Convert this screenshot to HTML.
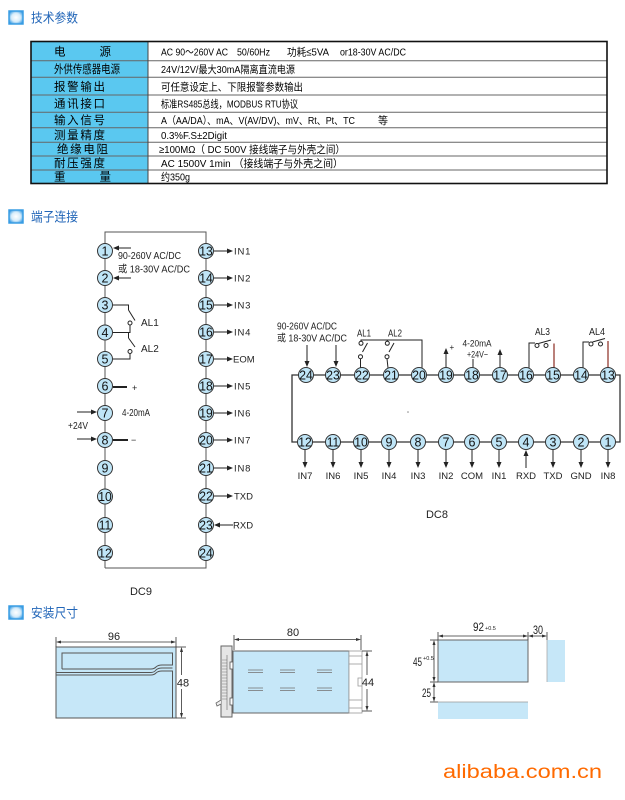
<!DOCTYPE html>
<html><head><meta charset="utf-8">
<style>
html,body{margin:0;padding:0;background:#fff;}
svg{display:block;}
text{font-family:"Liberation Sans","Noto Sans CJK SC",sans-serif;}
</style></head>
<body>
<svg width="625" height="800" viewBox="0 0 625 800" xmlns="http://www.w3.org/2000/svg">
<defs>
<radialGradient id="ic" cx="50%" cy="50%" r="60%">
<stop offset="0" stop-color="#ffffff"/><stop offset="0.55" stop-color="#d6ecfa"/><stop offset="1" stop-color="#2f97e2"/>
</radialGradient>
</defs>

<!-- Section headers -->
<rect x="9" y="11" width="14" height="13" fill="url(#ic)" stroke="#3a9de4" stroke-width="1.5"/>
<text x="31" y="22.5" font-size="13" fill="#2266b8" textLength="47" lengthAdjust="spacingAndGlyphs">技术参数</text>
<rect x="9" y="210" width="14" height="13" fill="url(#ic)" stroke="#3a9de4" stroke-width="1.5"/>
<text x="31" y="221.5" font-size="13" fill="#2266b8" textLength="47" lengthAdjust="spacingAndGlyphs">端子连接</text>
<rect x="9" y="606" width="14" height="13" fill="url(#ic)" stroke="#3a9de4" stroke-width="1.5"/>
<text x="31" y="617.5" font-size="13" fill="#2266b8" textLength="47" lengthAdjust="spacingAndGlyphs">安装尺寸</text>

<!-- Table -->
<rect x="31" y="41.5" width="117" height="142" fill="#5ac8f0"/>
<g stroke="#666" stroke-width="1">
<line x1="31" y1="60.7" x2="607" y2="60.7"/>
<line x1="31" y1="77.3" x2="607" y2="77.3"/>
<line x1="31" y1="95" x2="607" y2="95"/>
<line x1="31" y1="112.3" x2="607" y2="112.3"/>
<line x1="31" y1="127.7" x2="607" y2="127.7"/>
<line x1="31" y1="142.3" x2="607" y2="142.3"/>
<line x1="31" y1="156" x2="607" y2="156"/>
<line x1="31" y1="170" x2="607" y2="170"/>
<line x1="148" y1="41.5" x2="148" y2="183.5" stroke="#444"/>
</g>
<rect x="31" y="41.5" width="576" height="142" fill="none" stroke="#111" stroke-width="1.6"/>

<g font-size="11.5" fill="#000">
<text x="54" y="55.5" textLength="57" lengthAdjust="spacing">电源</text>
<text x="54" y="73" textLength="66" lengthAdjust="spacingAndGlyphs">外供传感器电源</text>
<text x="54" y="90.5" textLength="51" lengthAdjust="spacing">报警输出</text>
<text x="54" y="107.5" textLength="51" lengthAdjust="spacing">通讯接口</text>
<text x="54" y="124" textLength="51" lengthAdjust="spacing">输入信号</text>
<text x="54" y="139" textLength="51" lengthAdjust="spacing">测量精度</text>
<text x="57" y="153" textLength="51" lengthAdjust="spacing">绝缘电阻</text>
<text x="54" y="167" textLength="51" lengthAdjust="spacing">耐压强度</text>
<text x="54" y="180.5" textLength="57" lengthAdjust="spacing">重量</text>
</g>
<g font-size="10.5" fill="#000">
<text x="161" y="55.5" textLength="67" lengthAdjust="spacingAndGlyphs">AC 90～260V AC</text>
<text x="237" y="55.5" textLength="33" lengthAdjust="spacingAndGlyphs">50/60Hz</text>
<text x="287" y="55.5" textLength="42" lengthAdjust="spacingAndGlyphs">功耗≤5VA</text>
<text x="340" y="55.5" textLength="66" lengthAdjust="spacingAndGlyphs">or18-30V AC/DC</text>
<text x="161" y="73" textLength="134" lengthAdjust="spacingAndGlyphs">24V/12V/最大30mA隔离直流电源</text>
<text x="161" y="90.5" textLength="142" lengthAdjust="spacingAndGlyphs">可任意设定上、下限报警参数输出</text>
<text x="161" y="107.5" textLength="137" lengthAdjust="spacingAndGlyphs">标准RS485总线，MODBUS RTU协议</text>
<text x="161" y="124" textLength="194" lengthAdjust="spacingAndGlyphs">A（AA/DA）、mA、V(AV/DV)、mV、Rt、Pt、TC</text>
<text x="378" y="124" textLength="10" lengthAdjust="spacingAndGlyphs">等</text>
<text x="161" y="139" textLength="66" lengthAdjust="spacingAndGlyphs">0.3%F.S±2Digit</text>
<text x="159" y="153" textLength="186" lengthAdjust="spacingAndGlyphs">≥100MΩ（ DC 500V 接线端子与外壳之间）</text>
<text x="161" y="167" textLength="182" lengthAdjust="spacingAndGlyphs">AC 1500V  1min （接线端子与外壳之间）</text>
<text x="161" y="180.5" textLength="29" lengthAdjust="spacingAndGlyphs">约350g</text>
</g>

<!-- DC9 -->
<g stroke="#555" stroke-width="1" fill="none">
<polyline points="105,568 105,232 206,232 206,568 105,568"/>
</g>
<g stroke="#222" stroke-width="1" fill="none">
<line x1="131" y1="248" x2="116" y2="248"/>
<line x1="131" y1="278" x2="116" y2="278"/>
<polyline points="113,305 128.5,305 128.5,310"/>
<line x1="128.5" y1="310" x2="135" y2="320.5"/>
<circle cx="130" cy="323" r="2" fill="#fff"/>
<polyline points="130,325 130,332.5 113,332.5"/>
<polyline points="130,332.5 128.5,332.5 128.5,338"/>
<line x1="128.5" y1="338" x2="135" y2="347"/>
<circle cx="130" cy="351.5" r="2" fill="#fff"/>
<polyline points="130,353.5 130,359 113,359"/>
<line x1="77" y1="412" x2="93" y2="412"/>
<line x1="77" y1="439" x2="93" y2="439"/>
</g>
<g stroke="#222" stroke-width="2">
<line x1="113" y1="387" x2="127" y2="387"/>
<line x1="113" y1="440" x2="128" y2="440"/>
</g>
<g fill="#222">
<polygon points="113,248 119,245.5 119,250.5"/>
<polygon points="113,278 119,275.5 119,280.5"/>
<polygon points="97,412 91,409.5 91,414.5"/>
<polygon points="97,439 91,436.5 91,441.5"/>
</g>
<g font-size="10" fill="#222">
<text x="118" y="259" textLength="63" lengthAdjust="spacingAndGlyphs">90-260V AC/DC</text>
<text x="118" y="272.5" textLength="72" lengthAdjust="spacingAndGlyphs">或 18-30V AC/DC</text>
<text x="141" y="326">AL1</text>
<text x="141" y="352">AL2</text>
<text x="132" y="391" font-size="9">+</text>
<text x="122" y="416" textLength="28" lengthAdjust="spacingAndGlyphs">4-20mA</text>
<text x="68" y="429" textLength="20" lengthAdjust="spacingAndGlyphs">+24V</text>
<text x="131" y="443" font-size="9">−</text>
</g>
<g stroke="#222" stroke-width="1">
<line x1="214" y1="251" x2="228" y2="251"/>
<line x1="214" y1="278" x2="228" y2="278"/>
<line x1="214" y1="305" x2="228" y2="305"/>
<line x1="214" y1="332" x2="228" y2="332"/>
<line x1="214" y1="359" x2="228" y2="359"/>
<line x1="214" y1="386" x2="228" y2="386"/>
<line x1="214" y1="413" x2="228" y2="413"/>
<line x1="214" y1="440" x2="228" y2="440"/>
<line x1="214" y1="468" x2="228" y2="468"/>
<line x1="214" y1="496" x2="228" y2="496"/>
<line x1="219" y1="525" x2="233" y2="525"/>
</g>
<g fill="#222">
<polygon points="233,251 227,248.5 227,253.5"/>
<polygon points="233,278 227,275.5 227,280.5"/>
<polygon points="233,305 227,302.5 227,307.5"/>
<polygon points="233,332 227,329.5 227,334.5"/>
<polygon points="233,359 227,356.5 227,361.5"/>
<polygon points="233,386 227,383.5 227,388.5"/>
<polygon points="233,413 227,410.5 227,415.5"/>
<polygon points="233,440 227,437.5 227,442.5"/>
<polygon points="233,468 227,465.5 227,470.5"/>
<polygon points="233,496 227,493.5 227,498.5"/>
<polygon points="214,525 220,522.5 220,527.5"/>
</g>
<g font-size="9.5" fill="#222">
<text x="234" y="254.5" letter-spacing="0.8">IN1</text>
<text x="234" y="281.5" letter-spacing="0.8">IN2</text>
<text x="234" y="308.5" letter-spacing="0.8">IN3</text>
<text x="234" y="335.5" letter-spacing="0.8">IN4</text>
<text x="233" y="362.5">EOM</text>
<text x="234" y="389.5" letter-spacing="0.8">IN5</text>
<text x="234" y="416.5" letter-spacing="0.8">IN6</text>
<text x="234" y="443.5" letter-spacing="0.8">IN7</text>
<text x="234" y="471.5" letter-spacing="0.8">IN8</text>
<text x="234" y="499.5">TXD</text>
<text x="233" y="528.5">RXD</text>
</g>
<g fill="#bfe5f7" stroke="#333" stroke-width="1">
<circle cx="105" cy="251" r="7.5"/><circle cx="105" cy="278" r="7.5"/><circle cx="105" cy="305" r="7.5"/>
<circle cx="105" cy="332.5" r="7.5"/><circle cx="105" cy="359" r="7.5"/><circle cx="105" cy="386" r="7.5"/>
<circle cx="105" cy="413" r="7.5"/><circle cx="105" cy="440" r="7.5"/><circle cx="105" cy="468" r="7.5"/>
<circle cx="105" cy="496.5" r="7.5"/><circle cx="105" cy="525" r="7.5"/><circle cx="105" cy="553" r="7.5"/>
<circle cx="206" cy="251" r="7.5"/><circle cx="206" cy="278" r="7.5"/><circle cx="206" cy="305" r="7.5"/>
<circle cx="206" cy="332" r="7.5"/><circle cx="206" cy="359" r="7.5"/><circle cx="206" cy="386" r="7.5"/>
<circle cx="206" cy="413" r="7.5"/><circle cx="206" cy="440" r="7.5"/><circle cx="206" cy="468" r="7.5"/>
<circle cx="206" cy="496" r="7.5"/><circle cx="206" cy="525" r="7.5"/><circle cx="206" cy="553" r="7.5"/>
</g>
<g font-size="12.5" fill="#111" text-anchor="middle">
<text x="105" y="255.5">1</text><text x="105" y="282.5">2</text><text x="105" y="309.5">3</text>
<text x="105" y="337">4</text><text x="105" y="363.5">5</text><text x="105" y="390.5">6</text>
<text x="105" y="417.5">7</text><text x="105" y="444.5">8</text><text x="105" y="472.5">9</text>
<text x="105" y="501" textLength="13.5" lengthAdjust="spacingAndGlyphs">10</text><text x="105" y="529.5" textLength="12.5" lengthAdjust="spacingAndGlyphs">11</text><text x="105" y="557.5" textLength="13.5" lengthAdjust="spacingAndGlyphs">12</text>
<text x="206" y="255.5" textLength="13.5" lengthAdjust="spacingAndGlyphs">13</text><text x="206" y="282.5" textLength="13.5" lengthAdjust="spacingAndGlyphs">14</text><text x="206" y="309.5" textLength="13.5" lengthAdjust="spacingAndGlyphs">15</text>
<text x="206" y="336.5" textLength="13.5" lengthAdjust="spacingAndGlyphs">16</text><text x="206" y="363.5" textLength="13.5" lengthAdjust="spacingAndGlyphs">17</text><text x="206" y="390.5" textLength="13.5" lengthAdjust="spacingAndGlyphs">18</text>
<text x="206" y="417.5" textLength="13.5" lengthAdjust="spacingAndGlyphs">19</text><text x="206" y="444.5" textLength="13.5" lengthAdjust="spacingAndGlyphs">20</text><text x="206" y="472.5" textLength="13.5" lengthAdjust="spacingAndGlyphs">21</text>
<text x="206" y="500.5" textLength="13.5" lengthAdjust="spacingAndGlyphs">22</text><text x="206" y="529.5" textLength="13.5" lengthAdjust="spacingAndGlyphs">23</text><text x="206" y="557.5" textLength="13.5" lengthAdjust="spacingAndGlyphs">24</text>
</g>
<text x="141" y="595" font-size="11" fill="#222" text-anchor="middle">DC9</text>

<!-- DC8 -->
<g stroke="#333" stroke-width="1.3" fill="none">
<polyline points="608,375 306,375 292,375 292,442 305,442 608,442"/>
<polyline points="608,375 620,375 620,442 608,442"/>
</g>
<g stroke="#222" stroke-width="1" fill="none">
<line x1="307" y1="345" x2="307" y2="362"/>
<line x1="336" y1="345" x2="336" y2="362"/>
<polyline points="361,341.3 361,340 422,340 422,368"/>
<circle cx="361" cy="343.3" r="2" fill="#fff"/>
<line x1="362.5" y1="352" x2="367.5" y2="343"/>
<circle cx="360.5" cy="356.7" r="2" fill="#fff"/>
<line x1="360.5" y1="358.7" x2="360.5" y2="368"/>
<line x1="387.3" y1="341.3" x2="387.3" y2="340"/>
<circle cx="387.3" cy="343.3" r="2" fill="#fff"/>
<line x1="389" y1="352" x2="394" y2="343"/>
<circle cx="387" cy="356.7" r="2" fill="#fff"/>
<line x1="387" y1="358.7" x2="388" y2="368"/>
<line x1="446" y1="367" x2="446" y2="352"/>
<line x1="473" y1="367" x2="473" y2="359"/>
<line x1="500" y1="367" x2="500" y2="353"/>
<polyline points="529,368 529,343 535,343"/>
<circle cx="537" cy="345.5" r="2" fill="#fff"/>
<circle cx="546" cy="345.5" r="2" fill="#fff"/>
<line x1="538.5" y1="343.5" x2="551" y2="340"/>
<polyline points="583,368 583,342 589,342"/>
<circle cx="591" cy="344" r="2" fill="#fff"/>
<circle cx="600.5" cy="344" r="2" fill="#fff"/>
<line x1="592.5" y1="342" x2="605" y2="338.5"/>
<line x1="305" y1="449" x2="305" y2="463"/>
<line x1="333" y1="449" x2="333" y2="463"/>
<line x1="361" y1="449" x2="361" y2="463"/>
<line x1="389" y1="449" x2="389" y2="463"/>
<line x1="418" y1="449" x2="418" y2="463"/>
<line x1="446" y1="449" x2="446" y2="463"/>
<line x1="472" y1="449" x2="472" y2="463"/>
<line x1="499" y1="449" x2="499" y2="463"/>
<line x1="526" y1="454" x2="526" y2="468"/>
<line x1="553" y1="449" x2="553" y2="463"/>
<line x1="581" y1="449" x2="581" y2="463"/>
<line x1="608" y1="449" x2="608" y2="463"/>
</g>
<g stroke="#8b2a22" stroke-width="1.2">
<line x1="554" y1="343.5" x2="554" y2="368"/>
<line x1="608" y1="341" x2="608" y2="368"/>
</g>
<g fill="#222">
<polygon points="307,367 304.5,361 309.5,361"/>
<polygon points="336,367 333.5,361 338.5,361"/>
<polygon points="446,348 443.5,354 448.5,354"/>
<polygon points="500,349 497.5,355 502.5,355"/>
<polygon points="305,468 302.5,462 307.5,462"/>
<polygon points="333,468 330.5,462 335.5,462"/>
<polygon points="361,468 358.5,462 363.5,462"/>
<polygon points="389,468 386.5,462 391.5,462"/>
<polygon points="418,468 415.5,462 420.5,462"/>
<polygon points="446,468 443.5,462 448.5,462"/>
<polygon points="472,468 469.5,462 474.5,462"/>
<polygon points="499,468 496.5,462 501.5,462"/>
<polygon points="526,450 523.5,456 528.5,456"/>
<polygon points="553,468 550.5,462 555.5,462"/>
<polygon points="581,468 578.5,462 583.5,462"/>
<polygon points="608,468 605.5,462 610.5,462"/>
</g>
<g font-size="10" fill="#222">
<text x="277" y="329.5" textLength="60" lengthAdjust="spacingAndGlyphs">90-260V AC/DC</text>
<text x="277" y="341.5" textLength="70" lengthAdjust="spacingAndGlyphs">或 18-30V AC/DC</text>
<text x="357" y="336.5" textLength="14" lengthAdjust="spacingAndGlyphs">AL1</text>
<text x="388" y="336.5" textLength="14" lengthAdjust="spacingAndGlyphs">AL2</text>
<text x="449.5" y="350" font-size="8">+</text>
<text x="477" y="346.5" font-size="9" text-anchor="middle" textLength="29" lengthAdjust="spacingAndGlyphs">4-20mA</text>
<text x="477.5" y="357.5" font-size="9" text-anchor="middle" textLength="21" lengthAdjust="spacingAndGlyphs">+24V−</text>
<text x="535" y="335" textLength="15" lengthAdjust="spacingAndGlyphs">AL3</text>
<text x="589" y="335" textLength="16" lengthAdjust="spacingAndGlyphs">AL4</text>
</g>
<g font-size="9.5" fill="#222" text-anchor="middle">
<text x="305" y="479">IN7</text><text x="333" y="479">IN6</text><text x="361" y="479">IN5</text>
<text x="389" y="479">IN4</text><text x="418" y="479">IN3</text><text x="446" y="479">IN2</text>
<text x="472" y="479">COM</text><text x="499" y="479">IN1</text><text x="526" y="479">RXD</text>
<text x="553" y="479">TXD</text><text x="581" y="479">GND</text><text x="608" y="479">IN8</text>
</g>
<g fill="#bfe5f7" stroke="#333" stroke-width="1">
<circle cx="306" cy="375" r="7.5"/><circle cx="333" cy="375" r="7.5"/><circle cx="362" cy="375" r="7.5"/>
<circle cx="391" cy="375" r="7.5"/><circle cx="419" cy="375" r="7.5"/><circle cx="446" cy="375" r="7.5"/>
<circle cx="472" cy="375" r="7.5"/><circle cx="500" cy="375" r="7.5"/><circle cx="526" cy="375" r="7.5"/>
<circle cx="553" cy="375" r="7.5"/><circle cx="581" cy="375" r="7.5"/><circle cx="608" cy="375" r="7.5"/>
<circle cx="305" cy="442" r="7.5"/><circle cx="333" cy="442" r="7.5"/><circle cx="361" cy="442" r="7.5"/>
<circle cx="389" cy="442" r="7.5"/><circle cx="418" cy="442" r="7.5"/><circle cx="446" cy="442" r="7.5"/>
<circle cx="472" cy="442" r="7.5"/><circle cx="499" cy="442" r="7.5"/><circle cx="526" cy="442" r="7.5"/>
<circle cx="553" cy="442" r="7.5"/><circle cx="581" cy="442" r="7.5"/><circle cx="608" cy="442" r="7.5"/>
</g>
<g font-size="12.5" fill="#111" text-anchor="middle">
<text x="306" y="379.5" textLength="13.5" lengthAdjust="spacingAndGlyphs">24</text><text x="333" y="379.5" textLength="13.5" lengthAdjust="spacingAndGlyphs">23</text><text x="362" y="379.5" textLength="13.5" lengthAdjust="spacingAndGlyphs">22</text>
<text x="391" y="379.5" textLength="13.5" lengthAdjust="spacingAndGlyphs">21</text><text x="419" y="379.5" textLength="13.5" lengthAdjust="spacingAndGlyphs">20</text><text x="446" y="379.5" textLength="13.5" lengthAdjust="spacingAndGlyphs">19</text>
<text x="472" y="379.5" textLength="13.5" lengthAdjust="spacingAndGlyphs">18</text><text x="500" y="379.5" textLength="13.5" lengthAdjust="spacingAndGlyphs">17</text><text x="526" y="379.5" textLength="13.5" lengthAdjust="spacingAndGlyphs">16</text>
<text x="553" y="379.5" textLength="13.5" lengthAdjust="spacingAndGlyphs">15</text><text x="581" y="379.5" textLength="13.5" lengthAdjust="spacingAndGlyphs">14</text><text x="608" y="379.5" textLength="13.5" lengthAdjust="spacingAndGlyphs">13</text>
<text x="305" y="446.5" textLength="13.5" lengthAdjust="spacingAndGlyphs">12</text><text x="333" y="446.5" textLength="12.5" lengthAdjust="spacingAndGlyphs">11</text><text x="361" y="446.5" textLength="13.5" lengthAdjust="spacingAndGlyphs">10</text>
<text x="389" y="446.5">9</text><text x="418" y="446.5">8</text><text x="446" y="446.5">7</text>
<text x="472" y="446.5">6</text><text x="499" y="446.5">5</text><text x="526" y="446.5">4</text>
<text x="553" y="446.5">3</text><text x="581" y="446.5">2</text><text x="608" y="446.5">1</text>
</g>
<circle cx="408" cy="412" r="0.8" fill="#888"/>
<text x="437" y="518" font-size="11" fill="#222" text-anchor="middle">DC8</text>

<!-- front view -->
<rect x="56" y="647" width="120" height="71" fill="#c6e7f8" stroke="#555" stroke-width="1"/>
<g stroke="#555" stroke-width="1" fill="none">
<path d="M62,669 L62,653 L172.5,653 L172.5,665 L162,665 Q158,665 156,667 Q154,669 151,669 L62,669"/>
<path d="M56,672.5 L151,672.5 Q154,672.5 156,670 Q158,668 162,668 L172.5,668"/>
<path d="M56,675 L151,675 Q154,675 156,673 Q158,671 162,671 L172.5,671 L172.5,718"/>
</g>
<g stroke="#333" stroke-width="0.8" fill="none">
<line x1="56" y1="637" x2="56" y2="647"/>
<line x1="176" y1="637" x2="176" y2="647"/>
<line x1="58" y1="642" x2="174" y2="642"/>
<line x1="176" y1="647" x2="186" y2="647"/>
<line x1="176" y1="718" x2="186" y2="718"/>
<line x1="181.5" y1="649" x2="181.5" y2="675"/>
<line x1="181.5" y1="689" x2="181.5" y2="716"/>
</g>
<g fill="#333">
<polygon points="56,642 61,640.5 61,643.5"/>
<polygon points="176,642 171,640.5 171,643.5"/>
<polygon points="181.5,647 180,652 183,652"/>
<polygon points="181.5,718 180,713 183,713"/>
</g>
<text x="114" y="640" font-size="11" fill="#222" text-anchor="middle">96</text>
<text x="183" y="686.5" font-size="11" fill="#222" text-anchor="middle">48</text>

<!-- side view -->
<rect x="221" y="646" width="11" height="71" fill="#e6e6e6" stroke="#666" stroke-width="1"/>
<g stroke="#888" stroke-width="0.6">
<line x1="222" y1="660" x2="227" y2="660"/><line x1="222" y1="663" x2="227" y2="663"/>
<line x1="222" y1="666" x2="227" y2="666"/><line x1="222" y1="669" x2="227" y2="669"/>
<line x1="222" y1="672" x2="227" y2="672"/><line x1="222" y1="675" x2="227" y2="675"/>
<line x1="222" y1="678" x2="227" y2="678"/><line x1="222" y1="681" x2="227" y2="681"/>
<line x1="222" y1="684" x2="227" y2="684"/><line x1="222" y1="687" x2="227" y2="687"/>
<line x1="222" y1="690" x2="227" y2="690"/><line x1="222" y1="693" x2="227" y2="693"/>
<line x1="222" y1="696" x2="227" y2="696"/><line x1="222" y1="699" x2="227" y2="699"/>
<line x1="227" y1="655" x2="227" y2="710" stroke="#666"/>
</g>
<path d="M221,700 L216,703 L217,706 L221,704" fill="#eee" stroke="#666" stroke-width="0.8"/>
<rect x="230" y="662" width="3" height="7" fill="#fff" stroke="#555" stroke-width="0.8"/>
<rect x="230" y="698" width="3" height="7" fill="#fff" stroke="#555" stroke-width="0.8"/>
<rect x="233" y="651" width="116" height="62" fill="#c6e7f8" stroke="#666" stroke-width="1"/>
<rect x="349" y="651" width="13" height="62" fill="#fff" stroke="#999" stroke-width="0.8"/>
<g stroke="#999" stroke-width="0.8" fill="none">
<line x1="349" y1="656" x2="362" y2="656"/>
<line x1="349" y1="664" x2="362" y2="664"/>
<line x1="349" y1="700" x2="362" y2="700"/>
<line x1="349" y1="708" x2="362" y2="708"/>
<path d="M362,678 L358,678 L358,686 L362,686"/>
</g>
<g stroke="#777" stroke-width="0.8">
<line x1="248" y1="670" x2="263" y2="670"/><line x1="248" y1="672.5" x2="263" y2="672.5"/>
<line x1="280" y1="670" x2="295" y2="670"/><line x1="280" y1="672.5" x2="295" y2="672.5"/>
<line x1="317" y1="670" x2="332" y2="670"/><line x1="317" y1="672.5" x2="332" y2="672.5"/>
<line x1="248" y1="688" x2="263" y2="688"/><line x1="248" y1="690.5" x2="263" y2="690.5"/>
<line x1="280" y1="688" x2="295" y2="688"/><line x1="280" y1="690.5" x2="295" y2="690.5"/>
<line x1="317" y1="688" x2="332" y2="688"/><line x1="317" y1="690.5" x2="332" y2="690.5"/>
</g>
<g stroke="#333" stroke-width="0.8" fill="none">
<line x1="234" y1="635" x2="234" y2="650"/>
<line x1="361" y1="635" x2="361" y2="650"/>
<line x1="236" y1="639.5" x2="359" y2="639.5"/>
<line x1="362" y1="651" x2="372" y2="651"/>
<line x1="362" y1="711" x2="372" y2="711"/>
<line x1="367" y1="653" x2="367" y2="675"/>
<line x1="367" y1="689" x2="367" y2="709"/>
</g>
<g fill="#333">
<polygon points="234,639.5 239,638 239,641"/>
<polygon points="361,639.5 356,638 356,641"/>
<polygon points="367,651 365.5,656 368.5,656"/>
<polygon points="367,711 365.5,706 368.5,706"/>
</g>
<text x="293" y="636" font-size="11" fill="#222" text-anchor="middle">80</text>
<text x="368" y="686" font-size="11" fill="#222" text-anchor="middle">44</text>

<!-- cutout view -->
<rect x="438" y="640" width="90" height="42" fill="#c6e7f8" stroke="#666" stroke-width="1"/>
<rect x="547" y="640" width="18" height="42" fill="#c6e7f8"/>
<line x1="547" y1="640" x2="547" y2="682" stroke="#aaa" stroke-width="0.8"/>
<rect x="438" y="702" width="90" height="17" fill="#c6e7f8"/>
<line x1="438" y1="702" x2="528" y2="702" stroke="#999" stroke-width="0.8"/>
<g stroke="#333" stroke-width="0.8" fill="none">
<line x1="438" y1="632" x2="438" y2="640"/>
<line x1="528" y1="632" x2="528" y2="640"/>
<line x1="547" y1="632" x2="547" y2="640"/>
<line x1="440" y1="636" x2="526" y2="636"/>
<line x1="530" y1="636" x2="545" y2="636"/>
<line x1="430" y1="640" x2="438" y2="640"/>
<line x1="430" y1="682" x2="438" y2="682"/>
<line x1="430" y1="702" x2="438" y2="702"/>
<line x1="434" y1="642" x2="434" y2="680"/>
<line x1="434" y1="684" x2="434" y2="700"/>
</g>
<g fill="#333">
<polygon points="438,636 443,634.5 443,637.5"/>
<polygon points="528,636 523,634.5 523,637.5"/>
<polygon points="528,636 533,634.5 533,637.5"/>
<polygon points="547,636 542,634.5 542,637.5"/>
<polygon points="434,640 432.5,645 435.5,645"/>
<polygon points="434,682 432.5,677 435.5,677"/>
<polygon points="434,682 432.5,687 435.5,687"/>
<polygon points="434,702 432.5,697 435.5,697"/>
</g>
<g fill="#222">
<text x="473" y="631" font-size="12" textLength="11" lengthAdjust="spacingAndGlyphs">92</text>
<text x="485" y="630" font-size="5.5">+0.5</text>
<text x="533" y="634" font-size="12" textLength="10" lengthAdjust="spacingAndGlyphs">30</text>
<text x="413" y="666" font-size="12" textLength="9" lengthAdjust="spacingAndGlyphs">45</text>
<text x="423" y="660" font-size="5.5">+0.5</text>
<text x="422" y="697" font-size="12" textLength="9" lengthAdjust="spacingAndGlyphs">25</text>
</g>

<!-- watermark -->
<text x="443" y="778" font-family="'DejaVu Sans',sans-serif" font-size="19" fill="#ff6a00" textLength="159" lengthAdjust="spacingAndGlyphs">alibaba.com.cn</text>
</svg>
</body></html>
